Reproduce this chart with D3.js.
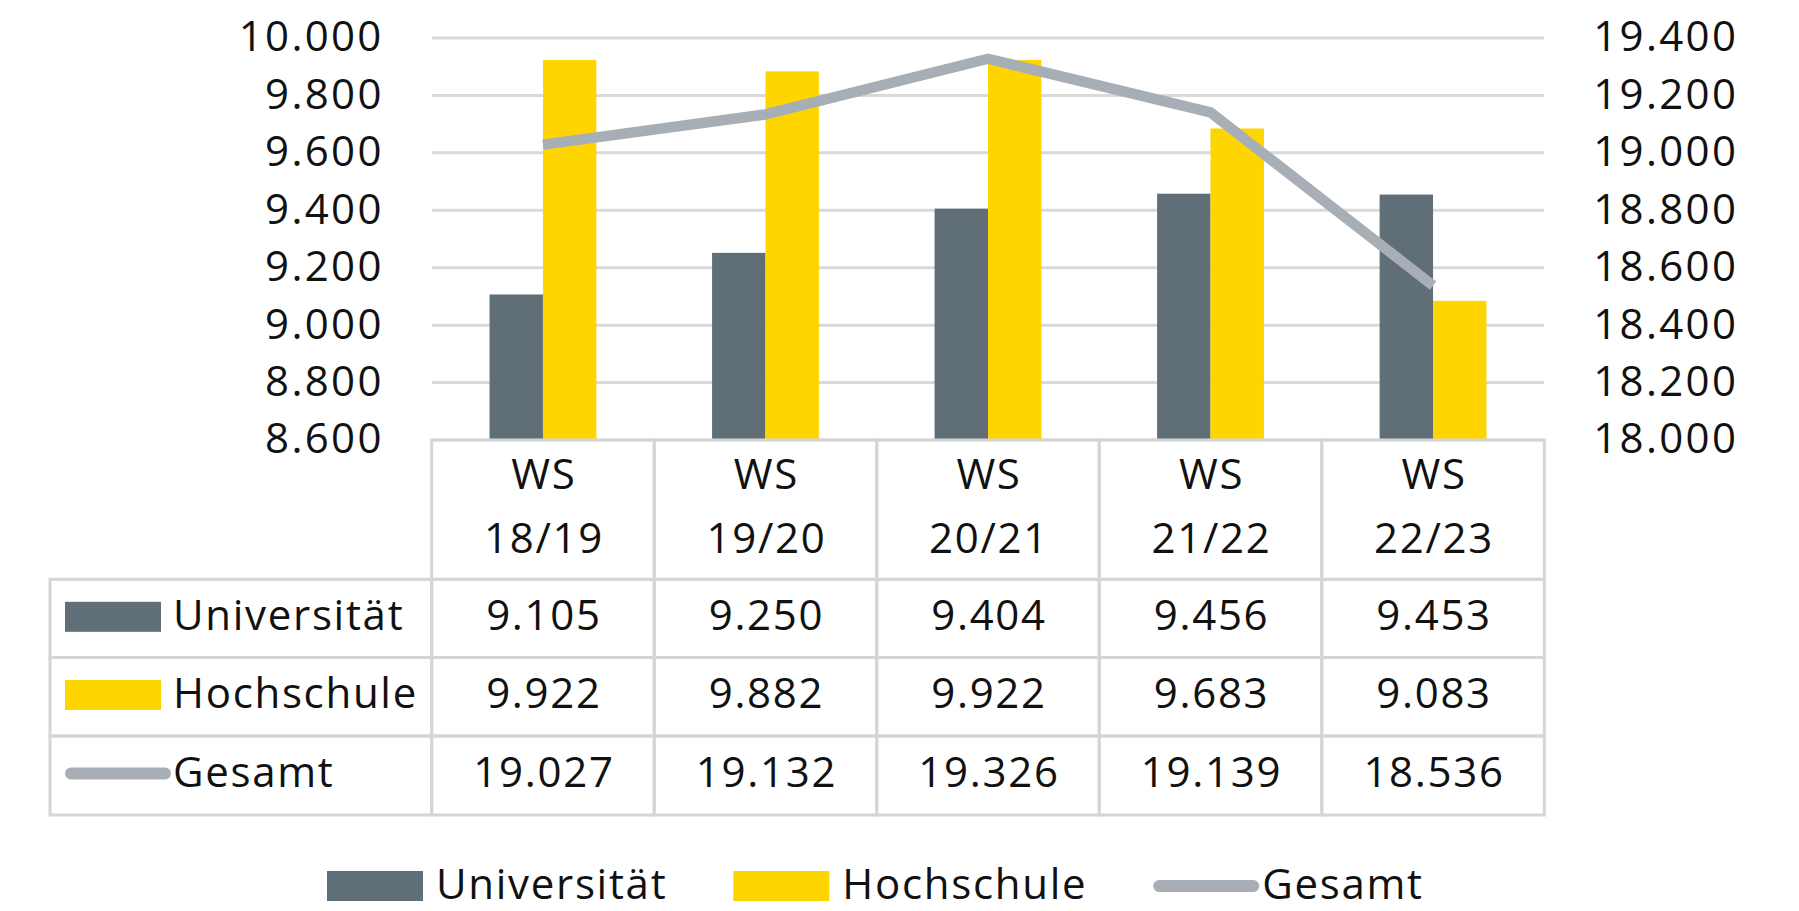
<!DOCTYPE html>
<html lang="de">
<head>
<meta charset="utf-8">
<title>Studierende Universität / Hochschule</title>
<script src="https://cdn.jsdelivr.net/npm/d3@7/dist/d3.min.js"></script>
<style>
  html, body { margin: 0; padding: 0; background: #ffffff; }
  svg { display: block; }
  text { font-family: "Open Sans", "Noto Sans", sans-serif; fill: #111111; letter-spacing: 1.7px; }
  .tick text { letter-spacing: 2.3px; }
</style>
</head>
<body>
<svg id="chart" width="1799" height="911"></svg>
<script>
// Semesters and student counts
const categories = ["WS 18/19", "WS 19/20", "WS 20/21", "WS 21/22", "WS 22/23"];
const universitaet = [9105, 9250, 9404, 9456, 9453];
const hochschule = [9922, 9882, 9922, 9683, 9083];
const gesamt = [19027, 19132, 19326, 19139, 18536];
const seriesNames = ["Universität", "Hochschule", "Gesamt"];

// Axis ticks
const leftTicks = [8600, 8800, 9000, 9200, 9400, 9600, 9800, 10000];
const rightTicks = [18000, 18200, 18400, 18600, 18800, 19000, 19200, 19400];

const colors = { "Universität": "#5f6e77", "Hochschule": "#ffd500", "Gesamt": "#a7aeb5" };
const gridColor = "#d9d9d9";
const borderColor = "#d5d5d5";

const de = d3.formatLocale({ decimal: ",", thousands: ".", grouping: [3], currency: ["", " €"] });
const fmt = de.format(",d");

const svg = d3.select("#chart");

// Plot frame
const plotLeft = 431.7, plotRight = 1544.3, plotTop = 37.5, plotBottom = 439.5;
const fontSize = 42;

const x = d3.scaleBand().domain(categories).range([plotLeft, plotRight]).padding(0);
const x1 = d3.scaleBand().domain(seriesNames.slice(0, 2)).range([0, x.bandwidth()])
  .paddingInner(0).paddingOuter(1.083);
const yL = d3.scaleLinear().domain([8600, 10000]).range([plotBottom, plotTop]);
const yR = d3.scaleLinear().domain([18000, 19400]).range([plotBottom, plotTop]);

// Left axis with gridlines
const gLeft = svg.append("g").attr("transform", `translate(${plotLeft},0)`)
  .call(d3.axisLeft(yL).tickValues(leftTicks).tickFormat(fmt)
    .tickSize(-(plotRight - plotLeft)).tickPadding(48));
gLeft.select(".domain").remove();
gLeft.selectAll(".tick line").attr("stroke", gridColor).attr("stroke-width", 3);
gLeft.selectAll(".tick text").attr("font-size", fontSize).attr("fill", "#111111")
  .style("font-family", "'Open Sans', sans-serif");

// Right axis
const gRight = svg.append("g").attr("transform", `translate(${plotRight},0)`)
  .call(d3.axisRight(yR).tickValues(rightTicks).tickFormat(fmt).tickSize(0).tickPadding(49));
gRight.select(".domain").remove();
gRight.selectAll(".tick text").attr("font-size", fontSize).attr("fill", "#111111")
  .style("font-family", "'Open Sans', sans-serif");

// Bars
const barData = categories.map((c, i) => ({
  cat: c,
  vals: [{ key: "Universität", v: universitaet[i] }, { key: "Hochschule", v: hochschule[i] }]
}));
svg.append("g").selectAll("g").data(barData).join("g")
  .attr("transform", d => `translate(${x(d.cat)},0)`)
  .selectAll("rect").data(d => d.vals).join("rect")
  .attr("x", d => x1(d.key))
  .attr("width", x1.bandwidth())
  .attr("y", d => yL(d.v))
  .attr("height", d => yL(8600) - yL(d.v))
  .attr("fill", d => colors[d.key]);

// Total line on the right axis
const line = d3.line()
  .x((d, i) => x(categories[i]) + x.bandwidth() / 2)
  .y(d => yR(d));
svg.append("path").datum(gesamt)
  .attr("d", line)
  .attr("fill", "none")
  .attr("stroke", colors["Gesamt"])
  .attr("stroke-width", 10.5)
  .attr("stroke-linejoin", "round")
  .attr("stroke-linecap", "butt");

// Data table below the plot
const tableLeft = 50;
const headerTop = 440, headerBottom = 579.3;
const rowEdges = [579.3, 657.5, 736, 815];
const tbl = svg.append("g");

// header cells
tbl.selectAll("rect.hcell").data(categories).join("rect")
  .attr("class", "hcell")
  .attr("x", d => x(d)).attr("y", headerTop)
  .attr("width", x.bandwidth()).attr("height", headerBottom - headerTop)
  .attr("fill", "none").attr("stroke", borderColor).attr("stroke-width", 3);

// body cells
const rowsData = [universitaet, hochschule, gesamt];
rowsData.forEach((vals, r) => {
  const top = rowEdges[r], bottom = rowEdges[r + 1];
  tbl.append("rect")
    .attr("x", tableLeft).attr("y", top)
    .attr("width", plotLeft - tableLeft).attr("height", bottom - top)
    .attr("fill", "none").attr("stroke", borderColor).attr("stroke-width", 3);
  tbl.selectAll(null).data(categories).join("rect")
    .attr("x", d => x(d)).attr("y", top)
    .attr("width", x.bandwidth()).attr("height", bottom - top)
    .attr("fill", "none").attr("stroke", borderColor).attr("stroke-width", 3);
  tbl.selectAll(null).data(vals).join("text")
    .attr("x", (d, i) => x(categories[i]) + x.bandwidth() / 2 + 1)
    .attr("y", top + 50.5)
    .attr("text-anchor", "middle")
    .attr("font-size", fontSize)
    .text(d => fmt(d));
});

// header labels (two lines)
const hdr = tbl.selectAll("text.hdr").data(categories).join("text")
  .attr("class", "hdr")
  .attr("text-anchor", "middle")
  .attr("font-size", fontSize);
hdr.append("tspan")
  .attr("x", d => x(d) + x.bandwidth() / 2 + 1).attr("y", 488.5)
  .text(d => d.split(" ")[0]);
hdr.append("tspan")
  .attr("x", d => x(d) + x.bandwidth() / 2 + 1).attr("y", 552.5)
  .text(d => d.split(" ")[1]);

// series keys in the first column
function drawKey(g, name, x0, yMid) {
  if (name === "Gesamt") {
    g.append("line")
      .attr("x1", x0 + 6).attr("x2", x0 + 100).attr("y1", yMid).attr("y2", yMid)
      .attr("stroke", colors[name]).attr("stroke-width", 12).attr("stroke-linecap", "round");
  } else {
    g.append("rect")
      .attr("x", x0).attr("y", yMid - 15).attr("width", 96).attr("height", 30)
      .attr("fill", colors[name]);
  }
}
seriesNames.forEach((name, r) => {
  const top = rowEdges[r];
  drawKey(tbl, name, 65, top + 37.5);
  tbl.append("text")
    .attr("x", 173).attr("y", top + 50.5)
    .attr("font-size", fontSize)
    .text(name);
});

// Legend at the bottom
const legend = svg.append("g");
let lx = 327;
seriesNames.forEach((name) => {
  const yMid = 886;
  drawKey(legend, name, lx, yMid);
  const t = legend.append("text")
    .attr("x", lx + 109).attr("y", 899)
    .attr("font-size", fontSize)
    .text(name);
  lx = lx + 109 + t.node().getComputedTextLength() + 66;
});
</script>
</body>
</html>
